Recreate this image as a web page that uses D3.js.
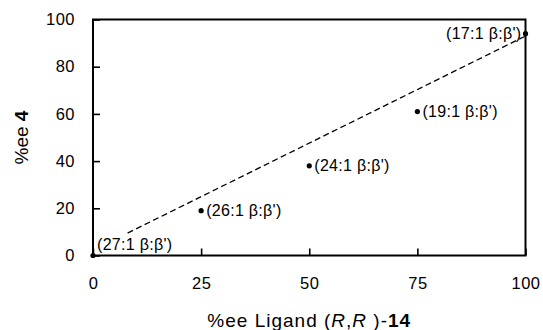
<!DOCTYPE html>
<html>
<head>
<meta charset="utf-8">
<script src="https://cdn.jsdelivr.net/npm/d3@7"></script>
<style>
  body { margin: 0; background: #fff; }
  svg { display: block; font-family: "Liberation Sans", Arial, sans-serif; }
</style>
</head>
<body>
<div id="chart"></div>
<script>
// data
const ligandEe = [0, 25, 50, 75, 100];
const productEe = [0, 19, 38, 61, 94];
const ratioLabels = ["(27:1 β:β')", "(26:1 β:β')", "(24:1 β:β')", "(19:1 β:β')", "(17:1 β:β')"];
const trendX = [8, 100];
const trendY = [9.5, 93];
const xTicks = [0, 25, 50, 75, 100];
const yTicks = [0, 20, 40, 60, 80, 100];

const width = 543, height = 330;
const margin = {top: 19.5, right: 17.5, bottom: 74.5, left: 93};

const svg = d3.select("#chart").append("svg")
    .attr("width", width)
    .attr("height", height);

const x = d3.scaleLinear().domain([0, 100]).range([margin.left, width - margin.right]);
const y = d3.scaleLinear().domain([0, 100]).range([height - margin.bottom, margin.top]);

// axes, ticks pointing inwards
const xAxis = svg.append("g")
    .attr("transform", `translate(0,${y(0)})`)
    .call(d3.axisBottom(x).tickValues(xTicks).tickSize(-7).tickPadding(21.5));
const yAxis = svg.append("g")
    .attr("transform", `translate(${x(0)},0)`)
    .call(d3.axisLeft(y).tickValues(yTicks).tickSize(-7).tickPadding(18));

[xAxis, yAxis].forEach(a => {
    a.select(".domain").remove();
    a.selectAll(".tick line").attr("stroke", "#000").attr("stroke-width", 1.6);
    a.selectAll(".tick text")
        .attr("fill", "#000")
        .style("font-size", "16.5px")
        .style("letter-spacing", "0.5px")
        .style("font-family", "'Liberation Sans', Arial, sans-serif");
});

// plot frame
svg.append("rect")
    .attr("x", x(0))
    .attr("y", y(100))
    .attr("width", x(100) - x(0))
    .attr("height", y(0) - y(100))
    .attr("fill", "none")
    .attr("stroke", "#000")
    .attr("stroke-width", 2);

// dashed trend line
svg.append("line")
    .attr("x1", x(trendX[0])).attr("y1", y(trendY[0]))
    .attr("x2", x(trendX[1])).attr("y2", y(trendY[1]))
    .attr("stroke", "#000")
    .attr("stroke-width", 1.3)
    .attr("stroke-dasharray", "6,3.5");

const pts = ligandEe.map((v, i) => ({x: v, y: productEe[i], label: ratioLabels[i], i}));

svg.selectAll(".pt")
    .data(pts)
    .join("circle")
    .attr("class", "pt")
    .attr("cx", d => x(d.x))
    .attr("cy", d => y(d.y))
    .attr("r", 2.6)
    .attr("fill", "#000");

const last = pts.length - 1;
svg.selectAll(".pt-label")
    .data(pts)
    .join("text")
    .attr("class", "pt-label")
    .attr("x", d => d.i === last ? x(d.x) - 4 : x(d.x) + (d.i === 0 ? 4 : 5))
    .attr("y", d => d.i === 0 ? y(d.y) - 6 : y(d.y))
    .attr("dy", d => d.i === 0 ? 0 : "0.35em")
    .attr("text-anchor", d => d.i === last ? "end" : "start")
    .style("font-size", "16px")
    .style("letter-spacing", "0.3px")
    .attr("fill", "#000")
    .text(d => d.label);

// axis titles
const xTitle = svg.append("text")
    .attr("x", (x(0) + x(100)) / 2)
    .attr("y", 326.5)
    .attr("text-anchor", "middle")
    .style("font-size", "19px")
    .style("letter-spacing", "1px");
xTitle.append("tspan").text("%ee Ligand (");
xTitle.append("tspan").style("font-style", "italic").text("R");
xTitle.append("tspan").text(",");
xTitle.append("tspan").style("font-style", "italic").text("R");
xTitle.append("tspan").text(" )-");
xTitle.append("tspan").style("font-weight", "bold").text("14");

const yTitle = svg.append("text")
    .attr("transform", `translate(28,${(y(0) + y(100)) / 2}) rotate(-90)`)
    .attr("text-anchor", "middle")
    .style("font-size", "19px");
yTitle.append("tspan").text("%ee ");
yTitle.append("tspan").style("font-weight", "bold").text("4");
</script>
</body>
</html>
